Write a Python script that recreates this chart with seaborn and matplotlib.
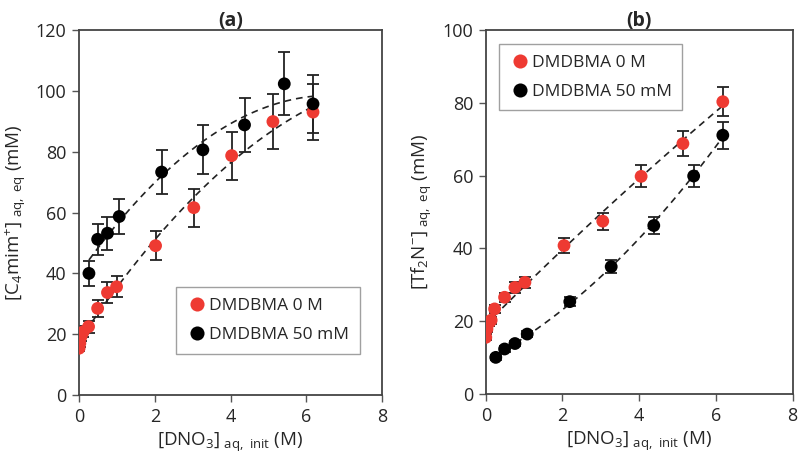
import matplotlib
matplotlib.use('Agg')
import matplotlib.pyplot as plt
import seaborn as sns
import pandas as pd
import numpy as np

sns.set_theme(style='white')
plt.rcParams['font.family'] = ['Open Sans', 'DejaVu Sans']
plt.rcParams['mathtext.fontset'] = 'custom'
plt.rcParams['mathtext.rm'] = 'Open Sans'
plt.rcParams['mathtext.it'] = 'Open Sans'

LABELS = ['DMDBMA 0 M', 'DMDBMA 50 mM']
COLORS = {'DMDBMA 0 M': '#ee3a32', 'DMDBMA 50 mM': '#000000'}

# panel (a): [C4mim+] vs [DNO3]
a_x0 = [0.0, 0.02, 0.05, 0.11, 0.25, 0.49, 0.75, 0.99, 2.02, 3.03, 4.03, 5.12, 6.18]
a_y0 = [15.4, 17.0, 19.2, 20.8, 22.5, 28.5, 33.7, 35.6, 49.1, 61.6, 78.7, 89.9, 93.0]
a_e0 = [1.0, 1.2, 1.5, 1.8, 2.0, 2.7, 3.5, 3.5, 4.8, 6.2, 7.9, 8.9, 9.3]
a_x1 = [0.26, 0.49, 0.75, 1.06, 2.18, 3.27, 4.37, 5.42, 6.18]
a_y1 = [40.0, 51.2, 53.2, 58.7, 73.3, 80.6, 88.8, 102.3, 95.7]
a_e1 = [4.1, 5.1, 5.4, 5.9, 7.3, 8.1, 8.9, 10.4, 9.6]

# panel (b): [Tf2N-] vs [DNO3]
b_x0 = [0.0, 0.03, 0.09, 0.14, 0.23, 0.49, 0.76, 1.02, 2.04, 3.05, 4.05, 5.14, 6.18]
b_y0 = [15.6, 17.9, 19.7, 20.3, 23.4, 26.6, 29.3, 30.7, 40.8, 47.5, 59.8, 68.8, 80.3]
b_e0 = [0.8, 0.8, 0.9, 0.9, 1.0, 1.2, 1.4, 1.5, 2.1, 2.3, 3.0, 3.4, 4.0]
b_x1 = [0.26, 0.49, 0.76, 1.08, 2.19, 3.27, 4.38, 5.42, 6.18]
b_y1 = [10.1, 12.4, 13.9, 16.5, 25.4, 35.0, 46.3, 59.9, 71.1]
b_e1 = [0.6, 0.7, 0.8, 0.8, 1.2, 1.7, 2.3, 3.0, 3.7]


def make_df(x0, y0, e0, x1, y1, e1):
    d0 = pd.DataFrame({'x': x0, 'y': y0, 'err': e0, 'series': LABELS[0]})
    d1 = pd.DataFrame({'x': x1, 'y': y1, 'err': e1, 'series': LABELS[1]})
    return pd.concat([d0, d1], ignore_index=True)


def draw_panel(ax, df, ymax, ylabel, title, legend_loc, legend_anchor):
    for lab in LABELS:
        d = df[df['series'] == lab]
        ax.errorbar(d['x'], d['y'], yerr=d['err'], fmt='none', ecolor='#222222',
                    elinewidth=1.3, capsize=4.5, capthick=1.3, zorder=2)
        coef = np.polyfit(d['x'], d['y'], 2)
        xs = np.linspace(d['x'].min(), d['x'].max(), 100)
        ax.plot(xs, np.polyval(coef, xs), ls=(0, (4, 3)), color='#222222', lw=1.2, zorder=3)
    sns.scatterplot(data=df, x='x', y='y', hue='series', hue_order=LABELS,
                    palette=COLORS, s=85, edgecolor='none', ax=ax, zorder=4)

    ax.set_xlim(0, 8)
    ax.set_ylim(0, ymax)
    ax.set_xticks(range(0, 9, 2))
    ax.set_yticks(range(0, ymax + 1, 20))
    ax.tick_params(axis='both', direction='out', length=5, width=1, color='#555555',
                   labelsize=13, left=True, bottom=True, pad=4)
    ax.set_xlabel(r'[DNO$_3$]$_{\rm\ aq,\ init}$ (M)', fontsize=13.5, labelpad=4)
    ax.set_ylabel(ylabel, fontsize=13.5, labelpad=6)
    ax.set_title(title, fontsize=14, fontweight='bold', pad=3)
    for sp in ax.spines.values():
        sp.set_edgecolor('#444444')
        sp.set_linewidth(1.3)

    leg = ax.legend(loc=legend_loc, bbox_to_anchor=legend_anchor, fontsize=12.5,
                    frameon=True, fancybox=False, handletextpad=0.1, borderpad=0.6,
                    labelspacing=0.75, markerscale=1.1, handlelength=1.2)
    leg.get_frame().set_edgecolor('#888888')
    leg.get_frame().set_linewidth(1.0)
    return leg


fig = plt.figure(figsize=(7.99, 4.61), dpi=100)
ax1 = fig.add_axes([0.099, 0.143, 0.379, 0.792])
ax2 = fig.add_axes([0.608, 0.145, 0.384, 0.790])

df_a = make_df(a_x0, a_y0, a_e0, a_x1, a_y1, a_e1)
df_b = make_df(b_x0, b_y0, b_e0, b_x1, b_y1, b_e1)

draw_panel(ax1, df_a, 120, r'[C$_4$mim$^{+}$]$_{\rm\ aq,\ eq}$ (mM)', '(a)',
           'lower right', (0.955, 0.09))
draw_panel(ax2, df_b, 100, r'[Tf$_2$N$^{-}$]$_{\rm\ aq,\ eq}$ (mM)', '(b)',
           'upper left', (0.015, 0.985))

fig.savefig('out.png', dpi=100, facecolor='white')
